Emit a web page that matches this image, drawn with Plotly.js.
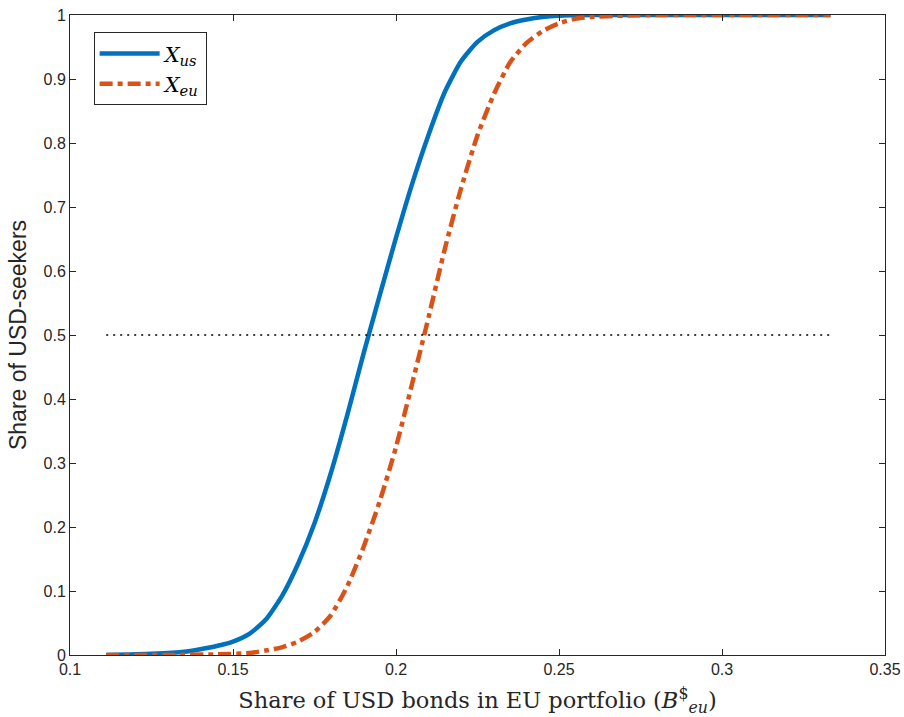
<!DOCTYPE html>
<html>
<head>
<meta charset="utf-8">
<script src="https://cdn.plot.ly/plotly-3.0.1.min.js"></script>
<style>html,body{margin:0;padding:0;background:#fff;}#chart{width:904px;height:717px;}</style>
</head>
<body>
<div id="chart"></div>
<script>
// X_us curve (share of USD-seekers among US agents)
const xUs = [0.1111, 0.125, 0.135, 0.140, 0.145, 0.150, 0.155, 0.160, 0.165, 0.170, 0.175, 0.180, 0.185, 0.190, 0.195, 0.200, 0.205, 0.210, 0.215, 0.220, 0.225, 0.230, 0.235, 0.240, 0.245, 0.250, 0.260, 0.280, 0.3333];
const yUs = [0.000, 0.002, 0.005, 0.009, 0.014, 0.021, 0.033, 0.055, 0.092, 0.143, 0.206, 0.284, 0.374, 0.470, 0.562, 0.652, 0.737, 0.813, 0.880, 0.928, 0.958, 0.976, 0.987, 0.993, 0.997, 0.999, 1.000, 1.000, 1.000];
// X_eu curve
const xEu = [0.1111, 0.130, 0.145, 0.155, 0.160, 0.165, 0.170, 0.175, 0.180, 0.185, 0.190, 0.195, 0.200, 0.205, 0.210, 0.215, 0.220, 0.225, 0.230, 0.235, 0.240, 0.245, 0.250, 0.255, 0.260, 0.270, 0.280, 0.3333];
const yEu = [0.000, 0.000, 0.001, 0.003, 0.007, 0.012, 0.021, 0.036, 0.062, 0.107, 0.168, 0.240, 0.325, 0.425, 0.528, 0.635, 0.730, 0.812, 0.876, 0.926, 0.956, 0.975, 0.987, 0.994, 0.997, 0.999, 1.000, 1.000];
// half line
const xHalf = [0.1111, 0.3333];
const yHalf = [0.5, 0.5];
const xTicks = [0.1, 0.15, 0.2, 0.25, 0.3, 0.35];
const xTickText = ['0.1', '0.15', '0.2', '0.25', '0.3', '0.35'];
const yTicks = [0, 0.1, 0.2, 0.3, 0.4, 0.5, 0.6, 0.7, 0.8, 0.9, 1];
const yTickText = ['0', '0.1', '0.2', '0.3', '0.4', '0.5', '0.6', '0.7', '0.8', '0.9', '1'];

const axisColor = '#262626';
const traces = [
  {x: xUs, y: yUs, mode: 'lines', name: '<i>X</i><sub><i>us</i></sub>',
   line: {color: '#0072BD', width: 4.5, shape: 'spline', smoothing: 0.6}},
  {x: xEu, y: yEu, mode: 'lines', name: '<i>X</i><sub><i>eu</i></sub>',
   line: {color: '#D95319', width: 4.5, shape: 'spline', smoothing: 0.6, dash: '13px,5px,5px,5px'}},
  {x: xHalf, y: yHalf, mode: 'lines', showlegend: false, hoverinfo: 'skip',
   line: {color: '#000', width: 1.3, dash: '2px,5px'}}
];
const layout = {
  width: 904, height: 717,
  margin: {l: 70, r: 19, t: 15, b: 62},
  paper_bgcolor: '#fff', plot_bgcolor: '#fff',
  showlegend: true,
  legend: {x: 0.029, y: 0.973, xanchor: 'left', yanchor: 'top',
    bgcolor: '#fff', bordercolor: axisColor, borderwidth: 1,
    font: {family: 'DejaVu Serif, serif', size: 21, color: '#000'},
    tracegroupgap: 0, itemwidth: 60},
  xaxis: {range: [0.1, 0.35], tickvals: xTicks, ticktext: xTickText,
    showgrid: false, zeroline: false, showline: true, linecolor: axisColor, linewidth: 1,
    mirror: 'ticks', ticks: 'inside', ticklen: 6, tickcolor: axisColor,
    tickfont: {family: 'Liberation Sans, Arial, sans-serif', size: 16, color: axisColor},
    title: {text: 'Share of USD bonds in EU portfolio (<i>B</i><sup>$</sup><sub><i>eu</i></sub>)',
      font: {family: 'DejaVu Serif, serif', size: 22.5, color: axisColor}, standoff: 15}},
  yaxis: {range: [0, 1], tickvals: yTicks, ticktext: yTickText,
    showgrid: false, zeroline: false, showline: true, linecolor: axisColor, linewidth: 1,
    mirror: 'ticks', ticks: 'inside', ticklen: 6, tickcolor: axisColor,
    tickfont: {family: 'Liberation Sans, Arial, sans-serif', size: 16, color: axisColor},
    title: {text: 'Share of USD-seekers',
      font: {family: 'Liberation Sans, Arial, sans-serif', size: 23, color: axisColor}, standoff: 10}}
};
Plotly.newPlot('chart', traces, layout, {displayModeBar: false, staticPlot: true});
</script>
</body>
</html>
